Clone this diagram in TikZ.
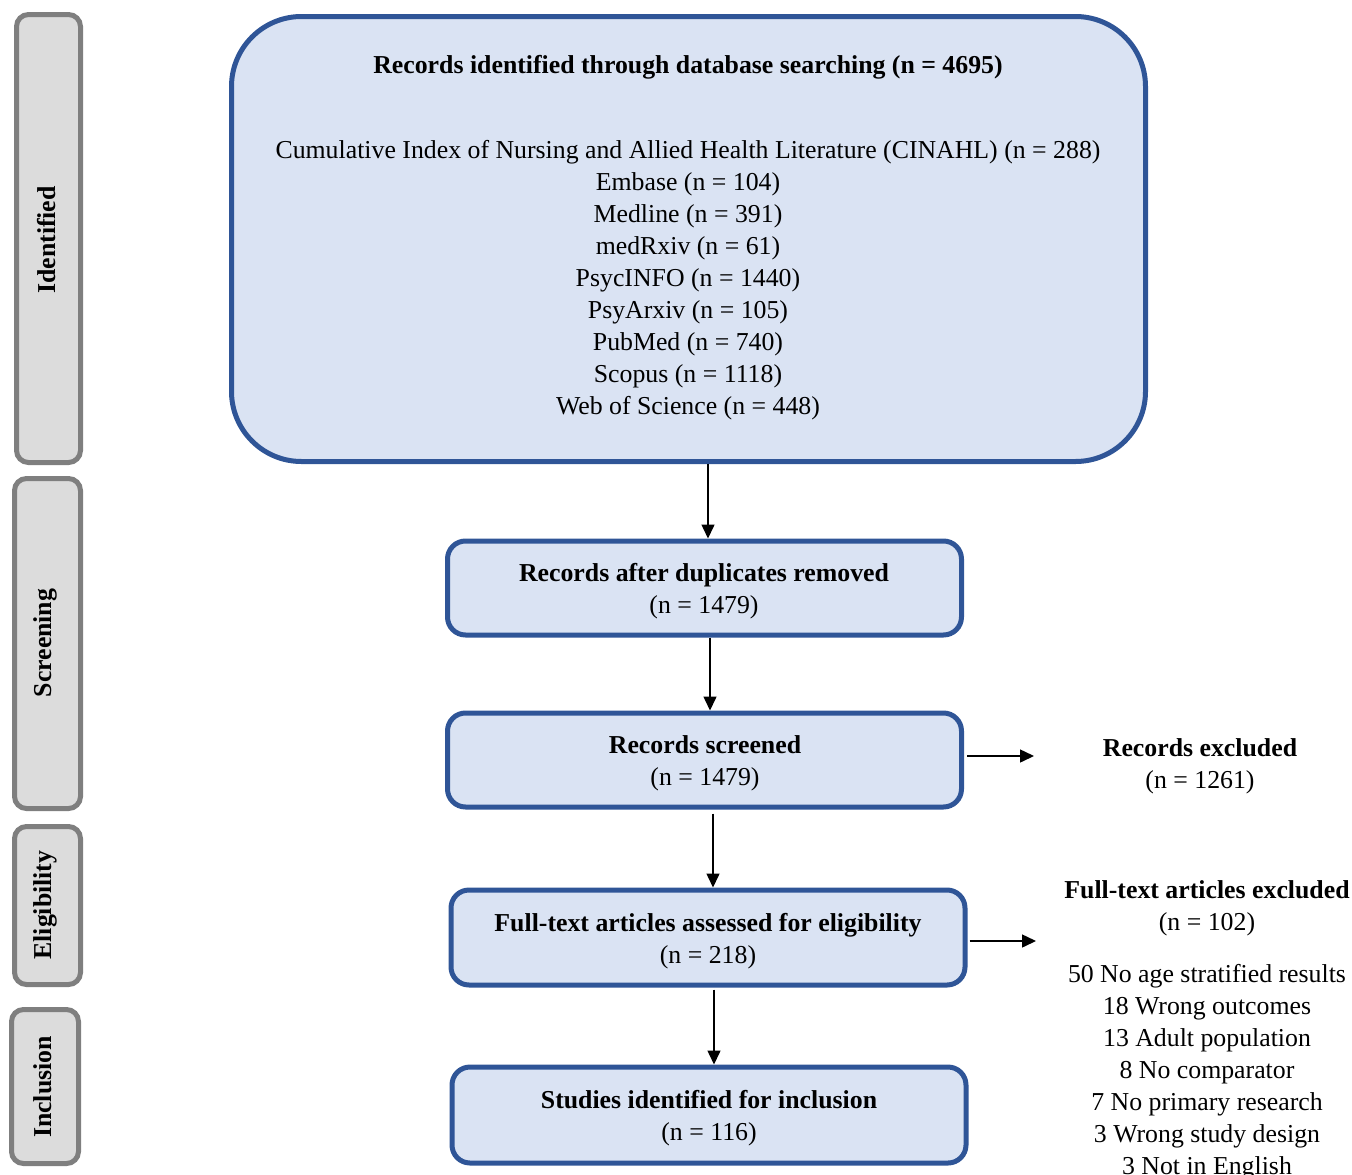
\documentclass[tikz,border=0pt]{standalone}
\usepackage{fontspec}
\setmainfont{Liberation Serif}
\usetikzlibrary{arrows.meta,calc}
\definecolor{bstroke}{HTML}{2F5597}
\definecolor{bfill}{HTML}{DAE3F3}
\definecolor{gstroke}{HTML}{7F7F7F}
\definecolor{gfill}{HTML}{DCDCDC}
\tikzset{
  box/.style={draw=bstroke, fill=bfill, line width=5pt, rounded corners=18pt, inner sep=0pt},
  phase/.style={draw=gstroke, fill=gfill, line width=5pt, rounded corners=12pt, inner sep=0pt},
  txt/.style={align=center, inner sep=0pt, font=\fontsize{25.8}{32}\selectfont},
  phasetxt/.style={rotate=90, inner sep=0pt, font=\fontsize{25.8}{32}\selectfont\bfseries},
  arr/.style={line width=1.5pt, -{Triangle[length=14pt,width=13pt]}}
}
\begin{document}
\begin{tikzpicture}[x=1pt,y=-1pt]
\useasboundingbox (0,0) rectangle (1352,1175);
% phase bars
\node[phase, minimum width=64pt, minimum height=448pt] (pI) at (48.5,238.5) {};
\node[phasetxt] (tI) at (47,240) {Identified};
\node[phase, minimum width=66pt, minimum height=330pt] (pS) at (47.5,643.5) {};
\node[phasetxt] (tS) at (45,643) {Screening};
\node[phase, minimum width=66pt, minimum height=158pt] (pE) at (47.5,905.5) {};
\node[phasetxt] (tE) at (45,905) {Eligibility};
\node[phase, minimum width=67pt, minimum height=154pt] (pN) at (45,1086.5) {};
\node[phasetxt] (tN) at (43,1087) {Inclusion};
% main boxes
\node[box, rounded corners=70pt, minimum width=914pt, minimum height=445pt] (top) at (688.5,239) {};
\node[txt, font=\fontsize{25.8}{32}\selectfont\bfseries] (topT) at (688,67) {Records identified through database searching (n = 4695)};
\node[txt, anchor=north] (topL) at (688,140) {Cumulative Index of Nursing and Allied Health Literature (CINAHL) (n = 288)\\
Embase (n = 104)\\ Medline (n = 391)\\ medRxiv (n = 61)\\ PsycINFO (n = 1440)\\ PsyArxiv (n = 105)\\ PubMed (n = 740)\\ Scopus (n = 1118)\\ Web of Science (n = 448)};
\node[box, minimum width=514pt, minimum height=94pt] (dup) at (704.5,588) {};
\node[txt] at (704,591) {\textbf{Records after duplicates removed}\\(n = 1479)};
\node[box, minimum width=514pt, minimum height=94pt] (scr) at (704.5,760) {};
\node[txt] at (705,763) {\textbf{Records screened}\\(n = 1479)};
\node[box, minimum width=514pt, minimum height=95pt] (full) at (708,937.5) {};
\node[txt] at (708,941) {\textbf{Full-text articles assessed for eligibility}\\(n = 218)};
\node[box, minimum width=514pt, minimum height=96pt] (inc) at (709,1115) {};
\node[txt] at (709,1118) {\textbf{Studies identified for inclusion}\\(n = 116)};
% exclusion texts
\node[txt] (exA) at (1200,766) {\textbf{Records excluded}\\(n = 1261)};
\node[txt, anchor=north] (exB) at (1207,880) {\textbf{Full-text articles excluded}\\(n = 102)\\[20pt]
50 No age stratified results\\ 18 Wrong outcomes\\ 13 Adult population\\ 8 No comparator\\ 7 No primary research\\ 3 Wrong study design\\ 3 Not in English};
% connectors
\coordinate (c1) at (708,0);
\coordinate (c2) at (710,0);
\coordinate (c3) at (713,0);
\coordinate (c4) at (714,0);
\coordinate (r1) at (1034,756);
\coordinate (r2) at (1036,941);
\draw[arr] (top.south -| c1) -- (dup.north -| c1);
\draw[arr] (dup.south -| c2) -- (scr.north -| c2);
\draw[arr, shorten <=4pt] (scr.south -| c3) -- (full.north -| c3);
\draw[arr, shorten <=2pt] (full.south -| c4) -- (inc.north -| c4);
\draw[arr, shorten <=3pt] (scr.east |- r1) -- (r1);
\draw[arr, shorten <=2pt] (full.east |- r2) -- (r2);
\end{tikzpicture}
\end{document}
